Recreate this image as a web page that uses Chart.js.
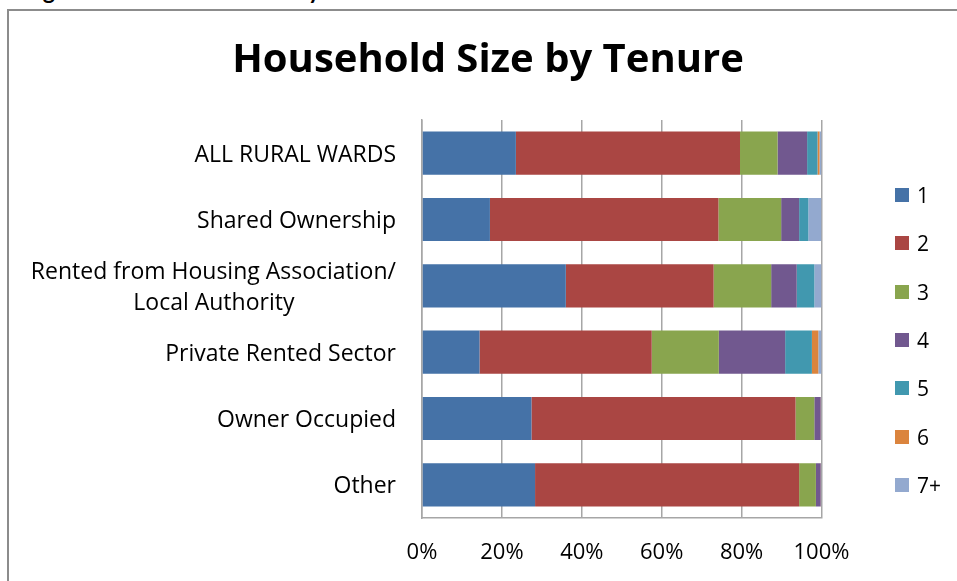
<!DOCTYPE html>
<html>
<head>
<meta charset="utf-8">
<title>Household Size by Tenure</title>
<script src="https://cdn.jsdelivr.net/npm/chart.js@4.4.1/dist/chart.umd.min.js"></script>
<style>
    body { margin: 0; background: #fff; }
    #marco { position: absolute; left: 0; top: 0; width: 957px; height: 581px; overflow: hidden; }
    #borde { position: absolute; left: 7px; top: 9px; width: 980px; height: 600px; border-left: 2px solid #8c8c8c; border-top: 2px solid #8c8c8c; }
    #pie { position: absolute; left: 24px; top: -24px; font: bold 23px Lato, sans-serif; white-space: nowrap; }
    canvas { position: absolute; left: 0; top: 0; }
    #leyenda { position: absolute; left: 895px; top: 171px; margin: 0; padding: 0; list-style: none; font: 21px "Open Sans", sans-serif; color: #000; }
    #leyenda li { height: 48.3px; display: flex; align-items: center; }
    #leyenda .caja { width: 14px; height: 14px; margin-right: 8px; }
</style>
</head>
<body>
<div id="marco">
    <div id="pie">Figure 12: Household Size by Tenure</div>
    <div id="borde"></div>
    <canvas id="graficoTenencia" width="957" height="581"></canvas>
    <ul id="leyenda"></ul>
</div>
<script>
// categorias del eje vertical
const categorias = ['ALL RURAL WARDS', 'Shared Ownership', ['Rented from Housing Association/', 'Local Authority'], 'Private Rented Sector', 'Owner Occupied', 'Other'];
const tamanos = ['1', '2', '3', '4', '5', '6', '7+'];
const colores = ['#4572A7', '#AA4643', '#89A54E', '#71588F', '#4198AF', '#DB843D', '#93A9CF'];

// porcentaje de hogares segun tamaño
const pers1 = [23.5, 17.0, 36.0, 14.4, 27.4, 28.3];
const pers2 = [56.1, 57.2, 37.0, 43.1, 66.1, 66.1];
const pers3 = [9.4, 15.7, 14.4, 16.8, 4.7, 4.2];
const pers4 = [7.4, 4.5, 6.4, 16.6, 1.6, 1.2];
const pers5 = [2.6, 2.3, 4.4, 6.7, 0.0, 0.0];
const pers6 = [0.5, 0.0, 0.0, 1.6, 0.1, 0.1];
const pers7 = [0.5, 3.3, 1.8, 0.8, 0.1, 0.1];
const marcasX = [0, 20, 40, 60, 80, 100];

const series = [pers1, pers2, pers3, pers4, pers5, pers6, pers7];
const fuenteEtiquetas = '23px "Open Sans"';

// centra las lineas de una etiqueta de varias lineas rellenando con espacios
function centrarLineas(lineas) {
    if (!Array.isArray(lineas)) return lineas;
    const ctx = document.createElement('canvas').getContext('2d');
    ctx.font = fuenteEtiquetas;
    const anchos = lineas.map(l => ctx.measureText(l).width);
    const maximo = Math.max(...anchos);
    const espacio = ctx.measureText(' ').width;
    return lineas.map((l, i) => l + ' '.repeat(Math.round((maximo - anchos[i]) / 2 / espacio)));
}

const grafico = new Chart(document.getElementById('graficoTenencia'), {
    type: 'bar',
    data: {
        labels: categorias.map(centrarLineas),
        datasets: series.map((datos, i) => ({
            label: tamanos[i],
            data: datos,
            backgroundColor: colores[i],
            borderWidth: 0,
            barPercentage: 0.65,
            categoryPercentage: 1
        }))
    },
    options: {
        indexAxis: 'y',
        responsive: false,
        animation: false,
        layout: { padding: { left: 19, right: 0, top: 10, bottom: 0 } },
        plugins: {
            legend: { display: false },
            tooltip: { enabled: false },
            title: {
                display: true,
                text: 'Household Size by Tenure',
                color: '#000',
                font: { family: 'Open Sans', size: 40, weight: 'bold', lineHeight: 1.2 },
                padding: { top: 27, bottom: 35 }
            }
        },
        scales: {
            x: {
                stacked: true,
                min: 0,
                max: 100,
                afterBuildTicks: (eje) => { eje.ticks = marcasX.map(v => ({ value: v })); },
                afterFit: (eje) => { eje.height = 63; },
                ticks: {
                    color: '#000',
                    font: { family: 'Open Sans', size: 22 },
                    padding: 22,
                    maxRotation: 0,
                    callback: (v) => v + '%'
                },
                grid: { color: '#a6a6a6', lineWidth: 1.5, drawTicks: false },
                border: { color: '#a6a6a6', width: 1.5 }
            },
            y: {
                stacked: true,
                afterFit: (eje) => { eje.width = 403; },
                ticks: {
                    color: '#000',
                    font: { family: 'Open Sans', size: 23, lineHeight: 1.35 },
                    padding: 26,
                    labelOffset: 2
                },
                grid: { display: false, drawTicks: false },
                border: { color: '#a6a6a6', width: 1.5 }
            },
            // eje vacio a la derecha: deja sitio a la leyenda
            hueco: {
                axis: 'y',
                position: 'right',
                ticks: { display: false },
                grid: { display: false, drawTicks: false },
                border: { display: false },
                afterFit: (eje) => { eje.width = 135.5; }
            }
        }
    }
});

// leyenda a la derecha
const leyenda = document.getElementById('leyenda');
grafico.data.datasets.forEach(ds => {
    const li = document.createElement('li');
    const caja = document.createElement('span');
    caja.className = 'caja';
    caja.style.background = ds.backgroundColor;
    li.appendChild(caja);
    li.appendChild(document.createTextNode(ds.label));
    leyenda.appendChild(li);
});
</script>
</body>
</html>
